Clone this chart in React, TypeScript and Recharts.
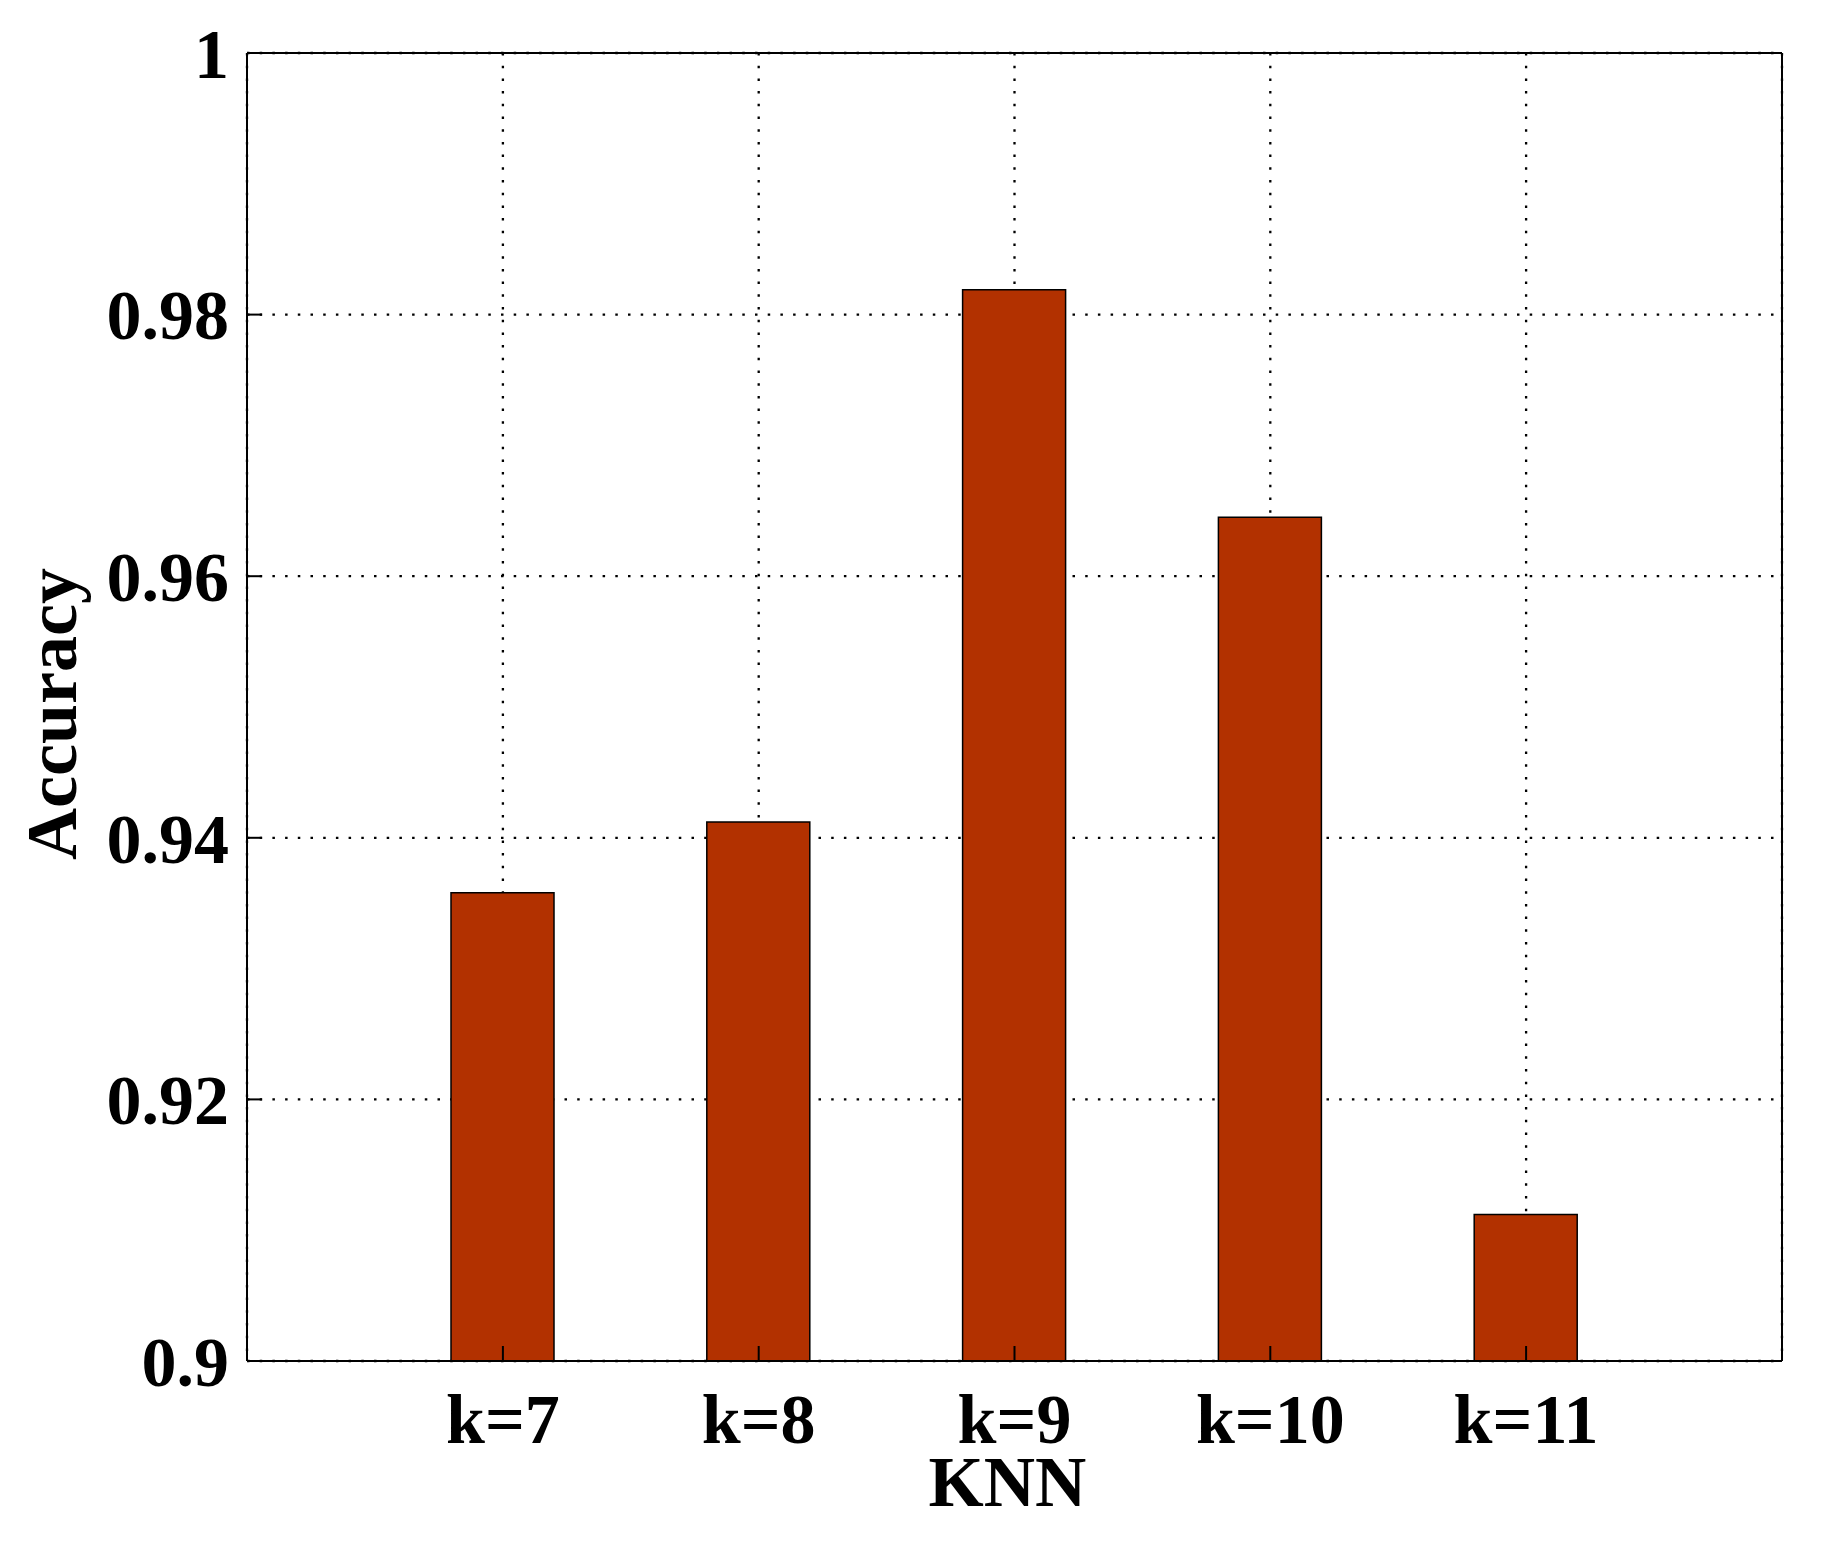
import { BarChart, Bar, XAxis, YAxis, CartesianGrid } from "recharts"

const categories = ["k=7", "k=8", "k=9", "k=10", "k=11"]
const accuracy = [0.9358, 0.9412, 0.9819, 0.9645, 0.9112]
const yTicks = [0.9, 0.92, 0.94, 0.96, 0.98, 1]

const data = categories.map((k, i) => ({ k, accuracy: accuracy[i] }))

const FONT = "'Liberation Serif', 'Times New Roman', serif"
const BAR_COLOR = "#B23100"
const line = { stroke: "#000", strokeWidth: 2 }
const tickText = { fill: "#000", fontSize: 70, fontWeight: "bold", fontFamily: FONT }

const fmt = (v: number) => String(Number(v.toFixed(2)))

export default function App() {
  return (
    <div style={{ position: "absolute", left: 0, top: 0, background: "#fff" }}>
      <BarChart
        width={1830}
        height={1542}
        data={data}
        margin={{ top: 52, right: 47, bottom: 0, left: 0 }}
      >
        <CartesianGrid stroke="#000" strokeWidth={2.3} strokeDasharray="2.5 10.2" />
        <XAxis
          dataKey="k"
          height={181}
          padding={{ left: 128, right: 128 }}
          axisLine={line}
          tickLine={line}
          tickSize={-15}
          tickMargin={47}
          tick={tickText}
          interval={0}
          label={({ viewBox }: any) => (
            <text
              x={viewBox.x + viewBox.width / 2 - 7}
              y={viewBox.y + 145}
              textAnchor="middle"
              fill="#000"
              fontSize={71}
              fontWeight="bold"
              fontFamily={FONT}
            >
              KNN
            </text>
          )}
        />
        {/* box: top and right axes with inward ticks, no labels */}
        <XAxis
          xAxisId="top"
          orientation="top"
          dataKey="k"
          height={1}
          padding={{ left: 128, right: 128 }}
          axisLine={line}
          tickLine={line}
          tickSize={-15}
          tick={false}
          interval={0}
        />
        <YAxis
          width={247}
          domain={[0.9, 1]}
          ticks={yTicks}
          allowDataOverflow
          axisLine={line}
          tickLine={line}
          tickSize={-15}
          tickMargin={33}
          tick={tickText}
          tickFormatter={fmt}
          interval={0}
          label={({ viewBox }: any) => {
            const cx = viewBox.x + 76
            const cy = viewBox.y + viewBox.height / 2 + 7
            return (
              <text
                x={cx}
                y={cy}
                transform={`rotate(-90 ${cx} ${cy})`}
                textAnchor="middle"
                fill="#000"
                fontSize={72}
                fontWeight="bold"
                fontFamily={FONT}
              >
                Accuracy
              </text>
            )
          }}
        />
        <YAxis
          yAxisId="right"
          orientation="right"
          width={1}
          domain={[0.9, 1]}
          ticks={yTicks}
          allowDataOverflow
          axisLine={line}
          tickLine={line}
          tickSize={-15}
          tick={false}
          interval={0}
        />
        <Bar
          dataKey="accuracy"
          fill={BAR_COLOR}
          stroke="#000"
          strokeWidth={1.5}
          barSize={103}
          isAnimationActive={false}
        />
      </BarChart>
    </div>
  )
}
